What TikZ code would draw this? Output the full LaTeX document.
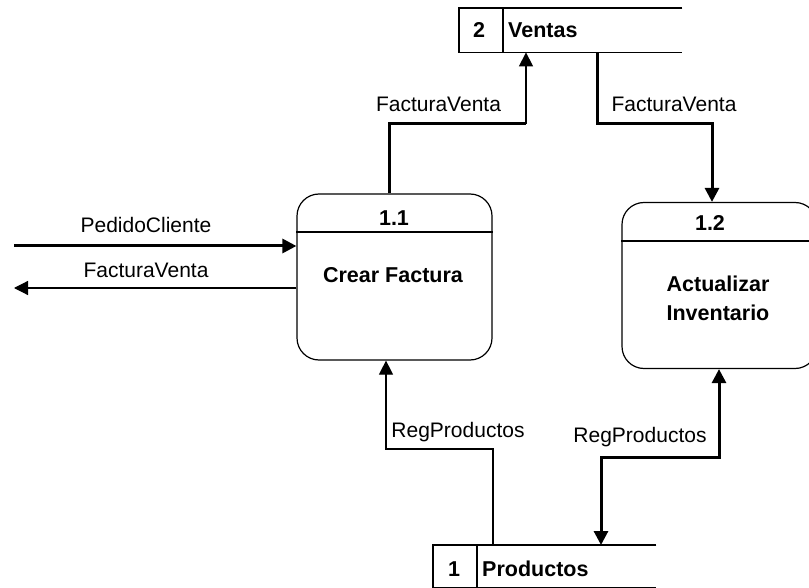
\documentclass[tikz,border=0pt]{standalone}
\usepackage{fontspec}
\setmainfont{Liberation Sans}
\usetikzlibrary{arrows.meta}

\begin{document}
\begin{tikzpicture}[x=1pt,y=-1pt,
  thinline/.style={line width=1.2pt},
  thickline/.style={line width=3pt},
  flowtip/.style={-{Triangle[length=14pt,width=14pt]}},
  bothtips/.style={{Triangle[length=14pt,width=14pt]}-{Triangle[length=14pt,width=14pt]}},
  proc/.style={draw, line width=1.2pt, rounded corners=22pt,
    minimum width=195pt, minimum height=166pt, inner sep=0pt},
  storebox/.style={draw=none, anchor=north west, minimum width=223pt,
    inner sep=0pt},
  lbl/.style={anchor=base, inner sep=0pt, font=\fontsize{21}{25}\selectfont},
  boldlbl/.style={anchor=base, inner sep=0pt, font=\bfseries\fontsize{21.5}{25}\selectfont},
  line join=miter]

\useasboundingbox (0,0) rectangle (809,588);
\clip (0,0) rectangle (809,588);
\fill[white] (0,0) rectangle (809,588);

% processes
\node[proc] (p11) at (394.5,277) {};
\node[proc] (p12) at (719.5,285.5) {};
\draw[thinline] (p11.west |- 0,232) -- (p11.east |- 0,232);
\draw[thinline] (p12.west |- 0,241) -- (p12.east |- 0,241);
\node[boldlbl] (p11id) at (394,226) {1.1};
\node[boldlbl] (p11name) at (393,283) {Crear Factura};
\node[boldlbl] (p12id) at (710,231) {1.2};
\node[boldlbl] (p12name) at (718,291) {Actualizar};
\node[boldlbl] (p12name2) at (718,320) {Inventario};

% data stores
\node[storebox, minimum height=44pt] (ventas) at (459,8) {};
\draw[thinline] (ventas.north east) -- (ventas.north west) -- (ventas.south west) -- (ventas.south east);
\draw[thinline] (ventas.north west) ++(44,0) coordinate (vdiv) -- (vdiv |- ventas.south);
\node[boldlbl] (ventasid) at (479,38) {2};
\node[boldlbl, anchor=base west] (ventasname) at (508,38) {Ventas};

\node[storebox, minimum height=42pt] (productos) at (433,545) {};
\draw[thinline] (productos.north east) -- (productos.north west) -- (productos.south west) -- (productos.south east);
\draw[thinline] (productos.north west) ++(44,0) coordinate (pdiv) -- (pdiv |- productos.south);
\node[boldlbl] (productosid) at (454,576) {1};
\node[boldlbl, anchor=base west] (productosname) at (482,576) {Productos};

% bend points of the flows
\coordinate (b1) at (389,124);
\coordinate (b2) at (526,124);
\coordinate (b3) at (597,124);
\coordinate (b4) at (712,124);
\coordinate (b5) at (493,449);
\coordinate (b6) at (386,449);
\coordinate (b7) at (719,457);
\coordinate (b8) at (601,457);
\coordinate (inP) at (14,246);
\coordinate (outF) at (14,288);

% data flows
\draw[thickline] (b1 |- p11.north) -- (b1) -- (b2);
\draw[thinline, flowtip] (b2) -- (b2 |- ventas.south);
\draw[thickline, flowtip] (b3 |- ventas.south) -- (b3) -- (b4) -- (b4 |- p12.north);
\draw[thickline, flowtip] (inP) -- (inP -| p11.west);
\draw[thinline, flowtip] (outF -| p11.west) -- (outF);
\draw[thinline, flowtip] (b5 |- productos.north) -- (b5) -- (b6) -- (b6 |- p11.south);
\draw[thickline, bothtips] (b7 |- p12.south) -- (b7) -- (b8) -- (b8 |- productos.north);

% flow labels
\node[lbl] (l1) at (146,233) {PedidoCliente};
\node[lbl] (l2) at (146,277) {FacturaVenta};
\node[lbl] (l3) at (438.5,112) {FacturaVenta};
\node[lbl] (l4) at (674,112) {FacturaVenta};
\node[lbl] (l5) at (458,437) {RegProductos};
\node[lbl] (l6) at (640,442) {RegProductos};
\end{tikzpicture}
\end{document}
